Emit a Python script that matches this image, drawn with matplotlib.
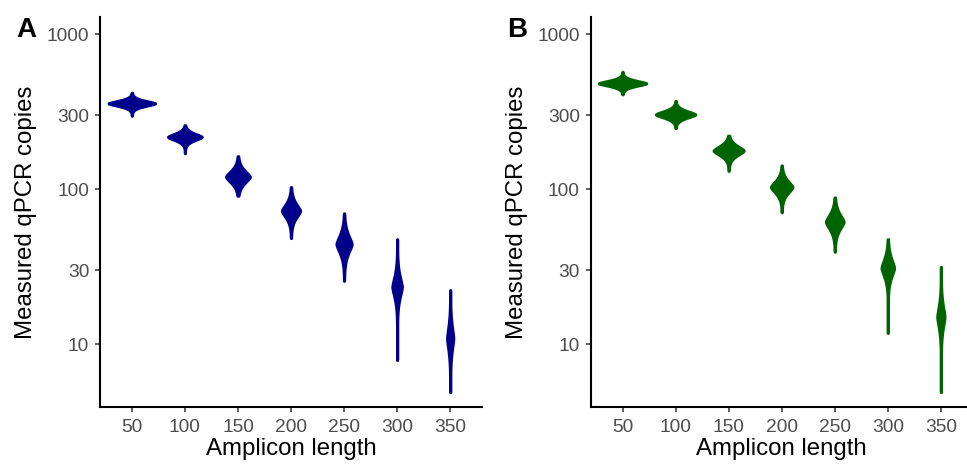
import numpy as np
import matplotlib
matplotlib.use("Agg")
import matplotlib.pyplot as plt

plt.rcParams['font.family'] = ['Liberation Sans', 'DejaVu Sans']

amplicon = [50, 100, 150, 200, 250, 300, 350]
y_ticks = [10, 30, 100, 300, 1000]

# panel A (blue)
a_mode = [357, 217, 120, 72.4, 44.2, 23.4, 10.9]
a_low = [297, 170, 90.6, 48.3, 25.6, 7.9, 4.9]
a_high = [418, 258, 163, 103, 69.7, 47.5, 22.3]
a_spread = [0.025, 0.032, 0.058, 0.065, 0.084, 0.097, 0.11]   # log10 units
a_width = [43.8, 31.8, 22.4, 17.1, 14.3, 9.0, 5.8]

# panel B (green)
b_mode = [481, 303, 177, 103, 61.5, 31.0, 15.0]
b_low = [408, 247, 131, 70.8, 39.4, 11.8, 4.9]
b_high = [571, 371, 221, 142, 88.3, 47.5, 31.5]
b_spread = [0.025, 0.032, 0.045, 0.058, 0.071, 0.084, 0.103]
b_width = [44.7, 37.2, 28.4, 20.3, 16.7, 11.8, 6.8]


def violin_stats(mode, low, high, spread):
    stats = []
    for m, lo, hi, s in zip(mode, low, high, spread):
        ly = np.linspace(np.log10(lo), np.log10(hi), 300)
        d = np.abs(ly - np.log10(m))
        dens = np.exp(-(d / s) ** 1.5)
        stats.append({'coords': 10 ** ly, 'vals': dens, 'mean': m,
                      'median': m, 'min': lo, 'max': hi})
    return stats


def draw_panel(ax, mode, low, high, spread, width, color, letter, fig):
    parts = ax.violin(violin_stats(mode, low, high, spread), positions=amplicon,
                      widths=width, showmeans=False, showextrema=False)
    for body in parts['bodies']:
        body.set_facecolor(color)
        body.set_edgecolor(color)
        body.set_linewidth(2.2)
        body.set_alpha(1)
    ax.set_yscale('log')
    ax.set_ylim(3.93, 1288)
    ax.set_xlim(20, 380)
    ax.set_yticks(y_ticks)
    ax.set_yticklabels([str(t) for t in y_ticks], fontsize=13.8, color='#4d4d4d')
    ax.yaxis.set_minor_locator(matplotlib.ticker.NullLocator())
    ax.set_xticks(amplicon)
    ax.set_xticklabels([str(a) for a in amplicon], fontsize=13.8, color='#4d4d4d')
    for side in ['top', 'right']:
        ax.spines[side].set_visible(False)
    for side in ['left', 'bottom']:
        ax.spines[side].set_linewidth(1.5)
    ax.tick_params(axis='both', color='#333333', length=3.8, width=1.1)
    ax.tick_params(axis='x', pad=4.5)
    ax.tick_params(axis='y', pad=4)
    ax.set_xlabel('Amplicon length', fontsize=17.3, labelpad=2)
    ax.set_ylabel('Measured qPCR copies', fontsize=17.3, labelpad=7)
    pos = ax.get_position()
    fig.text(pos.x0 - 84 / 967, 1 - 37 / 466, letter, fontsize=20,
             fontweight='bold', ha='left', va='baseline')


fig = plt.figure(figsize=(9.67, 4.66), dpi=100)
ax_a = fig.add_axes([100 / 967, 59 / 466, 382 / 967, 390 / 466])
ax_b = fig.add_axes([590.7 / 967, 59 / 466, 382 / 967, 390 / 466])

draw_panel(ax_a, a_mode, a_low, a_high, a_spread, a_width, '#00008b', 'A', fig)
draw_panel(ax_b, b_mode, b_low, b_high, b_spread, b_width, '#006400', 'B', fig)

fig.savefig('out.png', dpi=100)
